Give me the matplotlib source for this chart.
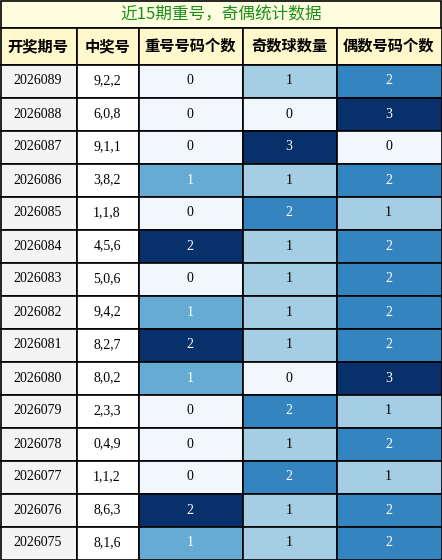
import matplotlib
matplotlib.use("Agg")
import matplotlib.pyplot as plt
from matplotlib.patches import Rectangle
from matplotlib import cm, colors

plt.rcParams['font.family'] = ['Noto Sans CJK SC', 'DejaVu Sans']

title = "近15期重号，奇偶统计数据"
headers = ["开奖期号", "中奖号", "重号号码个数", "奇数球数量", "偶数号码个数"]
periods = ["2026089","2026088","2026087","2026086","2026085","2026084","2026083","2026082",
           "2026081","2026080","2026079","2026078","2026077","2026076","2026075"]
numbers = ["9,2,2","6,0,8","9,1,1","3,8,2","1,1,8","4,5,6","5,0,6","9,4,2",
           "8,2,7","8,0,2","2,3,3","0,4,9","1,1,2","8,6,3","8,1,6"]
repeat = [0,0,0,1,0,2,0,1,2,1,0,0,0,2,1]
odd = [1,0,3,1,2,1,1,1,1,0,2,1,2,1,1]
even = [2,3,0,2,1,2,2,2,2,3,1,2,1,2,2]

W, H = 442, 560
fig = plt.figure(figsize=(W/100, H/100), dpi=100)
ax = fig.add_axes([0, 0, 1, 1])
ax.set_xlim(0, W); ax.set_ylim(H, 0); ax.axis('off')

colx = [0, 76, 138, 242, 336, 441]
title_h, head_h = 27, 37
row_h = (H - 1 - title_h - head_h) / len(periods)
lw = 1.2

ax.add_patch(Rectangle((0.5, 0.5), W-1.5, title_h, facecolor="#fffde0", edgecolor="black", lw=lw))
ax.text(W/2, title_h/2+1, title, ha='center', va='center', color="#1a8f1a", fontsize=12)

y0 = title_h + 0.5
for i, h in enumerate(headers):
    ax.add_patch(Rectangle((colx[i]+0.5, y0), colx[i+1]-colx[i], head_h, facecolor="#fff8cc", edgecolor="black", lw=lw))
    ax.text((colx[i]+colx[i+1])/2, y0+head_h/2, h, ha='center', va='center', fontsize=11, fontweight='bold')

cmap = cm.get_cmap('Blues')
cols_num = [repeat, odd, even]
for r in range(len(periods)):
    y = y0 + head_h + r*row_h
    for c, txt in enumerate([periods[r], numbers[r]]):
        ax.add_patch(Rectangle((colx[c]+0.5, y), colx[c+1]-colx[c], row_h, facecolor="#f4f4f4" if c == 0 else "white", edgecolor="black", lw=lw))
        ax.text((colx[c]+colx[c+1])/2, y+row_h/2, txt, ha='center', va='center', fontsize=10, family='Liberation Serif')
    for k, vals in enumerate(cols_num):
        c = k + 2
        v = vals[r]
        n = v / max(vals)
        fc = cmap(0.03 + 0.97*n)
        ax.add_patch(Rectangle((colx[c]+0.5, y), colx[c+1]-colx[c], row_h, facecolor=fc, edgecolor="black", lw=lw))
        ax.text((colx[c]+colx[c+1])/2, y+row_h/2, str(v), ha='center', va='center', fontsize=10,
                family='Liberation Serif', color='white' if n > 0.45 else 'black')

fig.savefig("out.png", dpi=100)
